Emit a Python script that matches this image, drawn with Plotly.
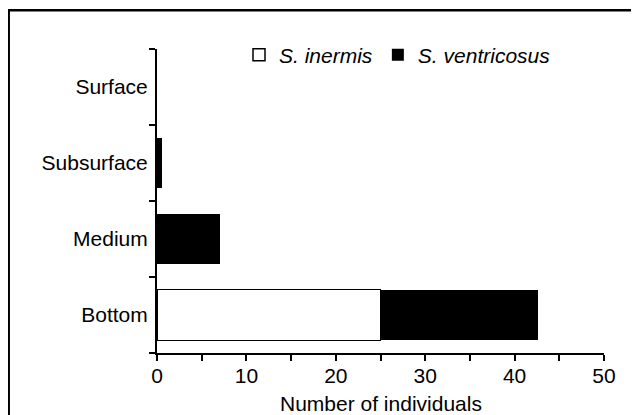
import plotly.graph_objects as go

depths = ["Bottom", "Medium", "Subsurface", "Surface"]
s_inermis = [25, 0, 0, 0]
s_ventricosus = [17.6, 7, 0.6, 0]
x_ticks = [0, 10, 20, 30, 40, 50]
x_title = "Number of individuals"

FONT = "Liberation Sans, Arial, Helvetica, sans-serif"

fig = go.Figure()
fig.add_trace(go.Bar(
    y=depths, x=s_inermis, orientation="h", name="<i>S. inermis</i>",
    marker=dict(color="white",
                line=dict(color="black", width=[1.5 if v > 0 else 0 for v in s_inermis])),
))
fig.add_trace(go.Bar(
    y=depths, x=s_ventricosus, orientation="h", name="<i>S. ventricosus</i>",
    marker=dict(color="black", line=dict(color="black", width=0)),
))

# page body has an 8px default margin; work in page pixels and convert
OFF = 8
W, H = 639 - OFF, 415 - OFF
PL, PR, PT, PB = 157, 604, 49, 353          # plot area in page pixels
L, T = PL - OFF, PT - OFF
R, B = W - (PR - OFF), H - (PB - OFF)
pw, ph = PR - PL, PB - PT

def px(x):
    return (x - PL) / pw

def py(y):
    return (PB - y) / ph

fig.update_layout(
    width=W, height=H,
    margin=dict(l=L, r=R, t=T, b=B, autoexpand=False),
    barmode="stack", bargap=0.33,
    plot_bgcolor="white", paper_bgcolor="white",
    font=dict(family=FONT, size=21, color="black"),
    showlegend=True,
    legend=dict(
        orientation="h", x=px(239), y=py(55), xanchor="left", yanchor="middle",
        font=dict(family=FONT, size=21, color="black"),
        bgcolor="rgba(0,0,0,0)", itemwidth=30, traceorder="normal",
    ),
    xaxis=dict(
        range=[0, 50], tickvals=x_ticks, ticktext=[str(v) for v in x_ticks],
        automargin=False,
        showline=True, linecolor="black", linewidth=2,
        ticks="outside", ticklen=6, tickwidth=1.5, tickcolor="black",
        ticklabelstandoff=-3,
        minor=dict(dtick=5, ticks="outside", ticklen=6, tickwidth=1.5, tickcolor="black"),
        showgrid=False, zeroline=False,
    ),
    yaxis=dict(
        type="category", categoryorder="array", categoryarray=depths,
        range=[-0.5, 3.5], tickson="boundaries", automargin=False,
        showline=True, linecolor="black", linewidth=2,
        ticks="outside", ticklen=6, tickwidth=1.5, tickcolor="black",
        ticklabelstandoff=3,
        showgrid=False, zeroline=False,
    ),
    annotations=[dict(
        text=x_title, xref="paper", yref="paper", x=0.5, y=py(403),
        xanchor="center", yanchor="middle", showarrow=False,
        font=dict(family=FONT, size=21, color="black"),
    )],
    shapes=[dict(
        type="rect", xref="paper", yref="paper",
        x0=px(8.7), x1=px(700), y0=py(480), y1=py(10.3),
        line=dict(color="black", width=2.5), fillcolor="rgba(0,0,0,0)", layer="below",
    )],
)

fig.write_html("out.html")
